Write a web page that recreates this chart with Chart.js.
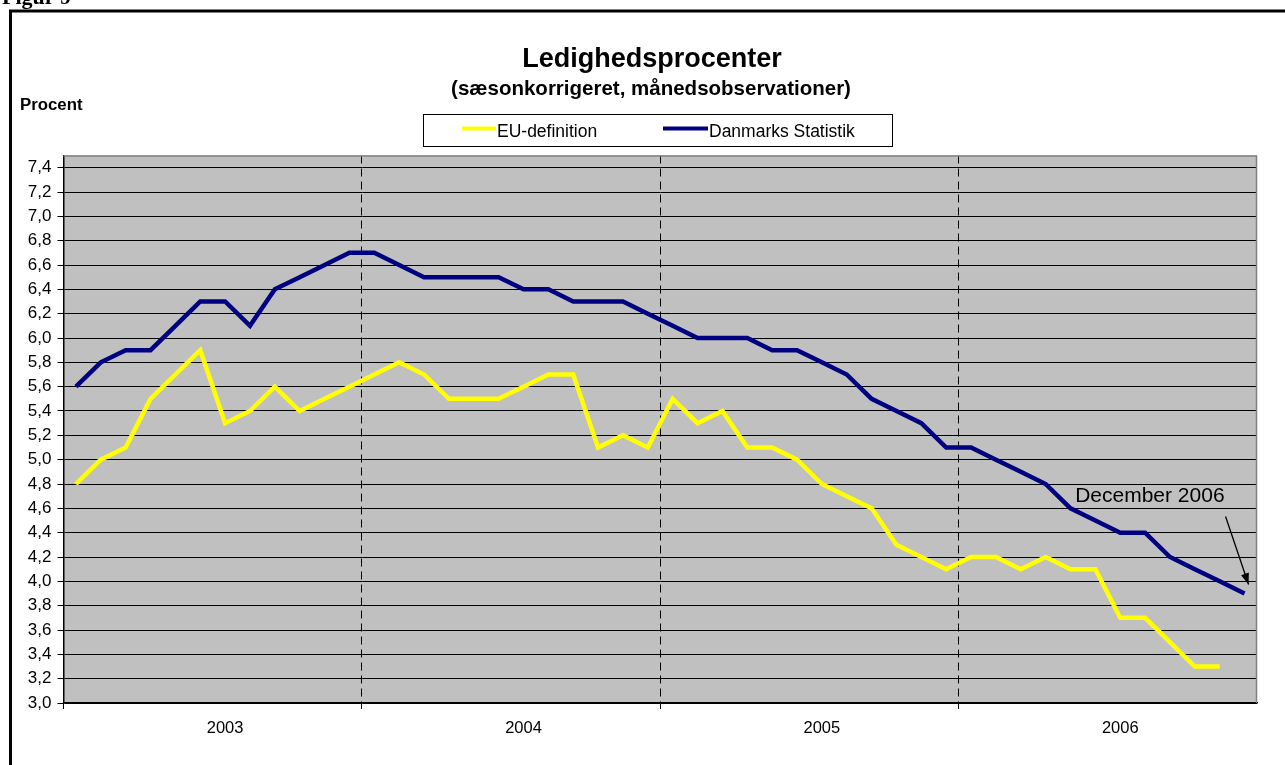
<!DOCTYPE html>
<html>
<head>
<meta charset="utf-8">
<script src="https://cdn.jsdelivr.net/npm/chart.js@4"></script>
<style>
  html, body { margin: 0; padding: 0; background: #fff; }
  #wrap { width: 1285px; height: 765px; position: relative; }
</style>
</head>
<body>
<div id="wrap"><canvas id="graf" width="1285" height="765"></canvas></div>
<script>
// data (månedsobservationer 2003-2006)
const aar = ['2003', '2004', '2005', '2006'];
const maaneder = ['jan', 'feb', 'mar', 'apr', 'maj', 'jun', 'jul', 'aug', 'sep', 'okt', 'nov', 'dec'];

const euDefinition = [
    4.8, 5.0, 5.1, 5.5, 5.7, 5.9, 5.3, 5.4, 5.6, 5.4, 5.5, 5.6,
    5.7, 5.8, 5.7, 5.5, 5.5, 5.5, 5.6, 5.7, 5.7, 5.1, 5.2, 5.1,
    5.5, 5.3, 5.4, 5.1, 5.1, 5.0, 4.8, 4.7, 4.6, 4.3, 4.2, 4.1,
    4.2, 4.2, 4.1, 4.2, 4.1, 4.1, 3.7, 3.7, 3.5, 3.3, 3.3, null
];
const danmarksStatistik = [
    5.6, 5.8, 5.9, 5.9, 6.1, 6.3, 6.3, 6.1, 6.4, 6.5, 6.6, 6.7,
    6.7, 6.6, 6.5, 6.5, 6.5, 6.5, 6.4, 6.4, 6.3, 6.3, 6.3, 6.2,
    6.1, 6.0, 6.0, 6.0, 5.9, 5.9, 5.8, 5.7, 5.5, 5.4, 5.3, 5.1,
    5.1, 5.0, 4.9, 4.8, 4.6, 4.5, 4.4, 4.4, 4.2, 4.1, 4.0, 3.9
];

const yTicks = [3.0, 3.2, 3.4, 3.6, 3.8, 4.0, 4.2, 4.4, 4.6, 4.8, 5.0, 5.2,
                5.4, 5.6, 5.8, 6.0, 6.2, 6.4, 6.6, 6.8, 7.0, 7.2, 7.4];
const yMin = 3.0;
const yMax = 7.5;

const kategorier = aar.flatMap(a => maaneder.map(m => m + ' ' + a));

const FONT = '"Liberation Sans", Arial, sans-serif';

// baggrund, ramme, overskrifter, forklaring og pil
const pynt = {
    id: 'pynt',
    beforeDraw(chart) {
        const ctx = chart.ctx;
        const a = chart.chartArea;
        ctx.save();
        ctx.fillStyle = '#fff';
        ctx.fillRect(0, 0, chart.width, chart.height);
        ctx.fillStyle = '#c0c0c0';
        ctx.fillRect(a.left, a.top, a.right - a.left, a.bottom - a.top);
        ctx.restore();
    },
    afterDatasetsDraw(chart) {
        const ctx = chart.ctx;
        const a = chart.chartArea;
        ctx.save();
        ctx.strokeStyle = '#808080';
        ctx.lineWidth = 1.5;
        ctx.beginPath();
        ctx.moveTo(a.left, a.top + 0.5);
        ctx.lineTo(a.right - 0.5, a.top + 0.5);
        ctx.lineTo(a.right - 0.5, a.bottom);
        ctx.stroke();
        ctx.restore();
    },
    afterDraw(chart) {
        const ctx = chart.ctx;
        const x = chart.scales.x;
        const y = chart.scales.y;
        ctx.save();

        // ydre ramme
        ctx.strokeStyle = '#000';
        ctx.lineWidth = 3;
        ctx.strokeRect(10.5, 11, 1400, 900);

        // figurnummer (afskåret foroven)
        ctx.fillStyle = '#000';
        ctx.font = 'bold 22px "Liberation Serif", "Times New Roman", serif';
        ctx.textAlign = 'left';
        ctx.textBaseline = 'alphabetic';
        ctx.fillText('Figur 9', 2, 4);

        // titel
        ctx.textAlign = 'center';
        ctx.font = 'bold 27px ' + FONT;
        ctx.fillText('Ledighedsprocenter', 652, 66.5);
        ctx.font = 'bold 20.5px ' + FONT;
        ctx.fillText('(sæsonkorrigeret, månedsobservationer)', 651, 94.5);

        // akse-titel
        ctx.textAlign = 'left';
        ctx.font = 'bold 16.8px ' + FONT;
        ctx.fillText('Procent', 20, 110);

        // forklaring
        ctx.lineWidth = 1;
        ctx.strokeStyle = '#000';
        ctx.strokeRect(423.5, 114.5, 469, 32);
        const pos = [[462, 496], [663, 708]];
        ctx.font = '17.5px ' + FONT;
        chart.data.datasets.forEach((ds, i) => {
            ctx.strokeStyle = ds.borderColor;
            ctx.lineWidth = 4;
            ctx.beginPath();
            ctx.moveTo(pos[i][0], 128.5);
            ctx.lineTo(pos[i][1], 128.5);
            ctx.stroke();
            ctx.fillStyle = '#000';
            ctx.fillText(ds.label, pos[i][1] + 1, 136.5);
        });

        // december 2006 med pil
        const sidste = danmarksStatistik.length - 1;
        const px = x.getPixelForValue(sidste);
        const py = y.getPixelForValue(danmarksStatistik[sidste]);
        const ex = px + 4, ey = py - 9;
        const sx = px - 19, sy = py - 77;
        ctx.font = '21px ' + FONT;
        ctx.fillStyle = '#000';
        ctx.textAlign = 'right';
        ctx.fillText('December 2006', sx - 1, sy - 15);
        ctx.strokeStyle = '#000';
        ctx.lineWidth = 1.3;
        ctx.beginPath();
        ctx.moveTo(sx, sy);
        ctx.lineTo(ex, ey);
        ctx.stroke();
        const vinkel = Math.atan2(ey - sy, ex - sx);
        ctx.beginPath();
        ctx.moveTo(ex, ey);
        ctx.lineTo(ex - 12 * Math.cos(vinkel - 0.35), ey - 12 * Math.sin(vinkel - 0.35));
        ctx.lineTo(ex - 12 * Math.cos(vinkel + 0.35), ey - 12 * Math.sin(vinkel + 0.35));
        ctx.closePath();
        ctx.fillStyle = '#000';
        ctx.fill();

        ctx.restore();
    }
};

new Chart(document.getElementById('graf'), {
    type: 'line',
    data: {
        labels: kategorier,
        datasets: [
            {
                label: 'EU-definition',
                data: euDefinition,
                borderColor: '#ffff00',
                backgroundColor: '#ffff00',
                borderWidth: 4.5,
                pointRadius: 0,
                tension: 0,
                spanGaps: false
            },
            {
                label: 'Danmarks Statistik',
                data: danmarksStatistik,
                borderColor: '#000080',
                backgroundColor: '#000080',
                borderWidth: 4.5,
                pointRadius: 0,
                tension: 0
            }
        ]
    },
    options: {
        responsive: false,
        animation: false,
        devicePixelRatio: 1,
        layout: { padding: { left: 0, top: 155.5, right: 28, bottom: 0 } },
        plugins: {
            legend: { display: false },
            title: { display: false },
            tooltip: { enabled: false }
        },
        scales: {
            x: {
                type: 'category',
                offset: true,
                afterFit: s => { s.height = 62; },
                grid: {
                    offset: true,
                    drawOnChartArea: true,
                    color: c => (c.index % 12 === 0 && c.index > 0 && c.index < 48) ? '#000' : 'rgba(0,0,0,0)',
                    tickColor: c => (c.index % 12 === 0) ? '#000' : 'rgba(0,0,0,0)',
                    lineWidth: 1,
                    tickLength: 6
                },
                border: { display: true, color: '#000', width: 1.5, dash: [8, 5] },
                ticks: {
                    autoSkip: false,
                    maxRotation: 0,
                    minRotation: 0,
                    padding: 10,
                    color: '#000',
                    font: { family: FONT, size: 16.5 },
                    callback: (v, i) => (i % 12 === 6) ? kategorier[i].split(' ')[1] : ''
                }
            },
            y: {
                min: yMin,
                max: yMax,
                afterFit: s => { s.width = 63.5; },
                afterBuildTicks: s => { s.ticks = yTicks.map(v => ({ value: v })); },
                grid: {
                    color: '#000',
                    lineWidth: 1,
                    tickLength: 6,
                    tickColor: '#000'
                },
                border: { display: true, color: '#000', width: 1.5 },
                ticks: {
                    padding: 6,
                    color: '#000',
                    font: { family: FONT, size: 17 },
                    callback: v => v.toFixed(1).replace('.', ',')
                }
            }
        }
    },
    plugins: [pynt]
});
</script>
</body>
</html>
